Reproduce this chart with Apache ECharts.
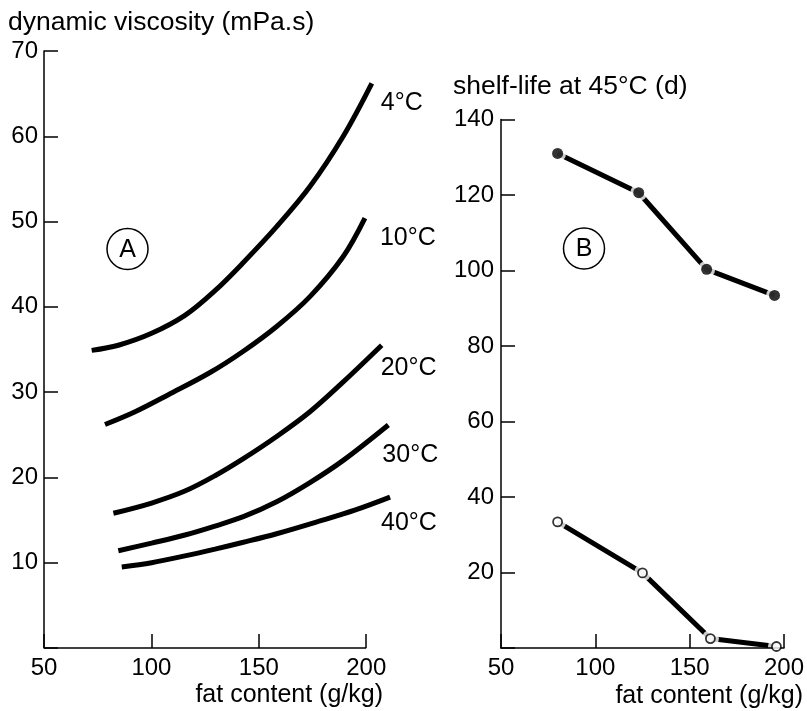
<!DOCTYPE html>
<html><head><meta charset="utf-8">
<script src="https://cdn.jsdelivr.net/npm/echarts/dist/echarts.min.js"></script>
<style>html,body{margin:0;padding:0;background:#fff}#c{width:807px;height:711px}</style>
</head><body><div id="c"></div>
<script>
// Panel A: dynamic viscosity (mPa.s) vs fat content (g/kg), one curve per temperature
const tempLabels = ['4°C', '10°C', '20°C', '30°C', '40°C'];
const fat4  = [72.2, 84.6, 100.1, 115.6, 129.6, 142.8, 158.3, 173.8, 189.3, 202.6];
const visc4 = [34.9, 35.5, 36.9, 39.0, 41.9, 45.2, 49.4, 54.1, 60.0, 66.2];
const fat10  = [78.4, 92.4, 107.9, 127.3, 142.8, 158.3, 173.8, 189.3, 199.4];
const visc10 = [26.2, 27.7, 29.7, 32.3, 34.8, 37.7, 41.2, 45.9, 50.4];
const fat20  = [82.3, 100.1, 115.6, 129.6, 142.8, 158.3, 173.8, 189.3, 207.2];
const visc20 = [15.8, 17.0, 18.4, 20.2, 22.2, 24.8, 27.7, 31.2, 35.5];
const fat30  = [84.6, 100.1, 115.6, 129.6, 142.8, 158.3, 173.8, 189.3, 210.3];
const visc30 = [11.4, 12.3, 13.25, 14.3, 15.4, 17.15, 19.4, 22.0, 26.15];
const fat40  = [86.2, 100.1, 115.6, 129.6, 142.8, 158.3, 178.5, 195.0, 211.1];
const visc40 = [9.5, 10.0, 10.8, 11.6, 12.4, 13.4, 14.9, 16.2, 17.7];
const yTicksA = [10, 20, 30, 40, 50, 60, 70];
const xTicks = [50, 100, 150, 200];
const xMaxA = 212; // curves run a little past the last tick

// Panel B: shelf-life at 45°C (d) vs fat content (g/kg)
const fatFilled  = [80, 123, 159, 195];
const lifeFilled = [131, 120.6, 100.3, 93.4];
const fatOpen  = [80, 125, 161, 196];
const lifeOpen = [33.4, 19.9, 2.5, 0.4];
const yTicksB = [20, 40, 60, 80, 100, 120, 140];

const FONT = 'Liberation Sans, Arial, Helvetica, sans-serif';
const pairs = (xs, ys) => xs.map((x, i) => [x, ys[i]]);

const curvesA = [[fat4, visc4], [fat10, visc10], [fat20, visc20], [fat30, visc30], [fat40, visc40]];
const labelOffsets = [[1, 20], [7, 19.5], [-9, 23], [-14, 30], [-17, 26]];

const lineStyleAxis = { color: '#000', width: 1.5 };
const axisCommon = {
  axisLine: { show: true, onZero: false, lineStyle: lineStyleAxis },
  axisTick: { show: true, inside: true, length: 14, lineStyle: lineStyleAxis },
  splitLine: { show: false },
  axisLabel: { color: '#000', fontSize: 24, fontFamily: FONT }
};

const series = [];
curvesA.forEach((c, i) => {
  const s = {
    type: 'line', name: tempLabels[i], xAxisIndex: 0, yAxisIndex: 0,
    data: pairs(c[0], c[1]), smooth: 0.35, showSymbol: false, symbol: 'none',
    clip: false, z: 2,
    lineStyle: { color: '#000', width: 5, cap: 'butt' },
    endLabel: { show: true, formatter: tempLabels[i], color: '#000', fontSize: 25, fontFamily: FONT,
                offset: labelOffsets[i] }
  };
  if (i === 0) {
    // x-axis line of panel A stops at the last tick
    s.markLine = {
      silent: true, symbol: 'none', animation: false, label: { show: false },
      lineStyle: { color: '#000', width: 1.5, type: 'solid' },
      data: [[{ coord: [xTicks[0], 0] }, { coord: [xTicks[xTicks.length - 1], 0] }]]
    };
  }
  series.push(s);
});

// Panel B lines
[[fatFilled, lifeFilled], [fatOpen, lifeOpen]].forEach((c, i) => {
  series.push({
    type: 'line', name: i === 0 ? 'filled' : 'open', xAxisIndex: 1, yAxisIndex: 1,
    data: pairs(c[0], c[1]), showSymbol: false, symbol: 'none', z: 2, clip: false,
    lineStyle: { color: '#000', width: 5 }
  });
  // white halos create the gaps around markers
  series.push({
    type: 'scatter', xAxisIndex: 1, yAxisIndex: 1, data: pairs(c[0], c[1]),
    symbol: 'circle', symbolSize: 17, z: 3, clip: false,
    itemStyle: { color: '#fff' }, silent: true
  });
  series.push({
    type: 'scatter', xAxisIndex: 1, yAxisIndex: 1, data: pairs(c[0], c[1]),
    symbol: 'circle', symbolSize: i === 0 ? 11 : 9, z: 5, clip: false,
    itemStyle: i === 0 ? { color: '#000' } : { color: '#fff', borderColor: '#000', borderWidth: 1.8 }
  });
});

const titleStyle = (size) => ({ fontSize: size, fontWeight: 'normal', color: '#000', fontFamily: FONT });

const option = {
  animation: false,
  backgroundColor: '#fff',
  textStyle: { fontFamily: FONT, color: '#000' },
  title: [
    { text: 'dynamic viscosity (mPa.s)', left: 8, top: 9, padding: 0, textStyle: titleStyle(26.5) },
    { text: 'shelf-life at 45°C (d)', left: 453, top: 73, padding: 0, textStyle: titleStyle(26.5) },
    { text: 'fat content (g/kg)', right: 424, top: 683, padding: 0, textStyle: titleStyle(25) },
    { text: 'fat content (g/kg)', right: 4, top: 684, padding: 0, textStyle: titleStyle(25) }
  ],
  grid: [
    { left: 44, top: 51, width: 348, height: 597 },
    { left: 501, top: 119.5, width: 286, height: 528.5 }
  ],
  xAxis: [
    Object.assign({}, axisCommon, { type: 'value', gridIndex: 0, min: xTicks[0], max: xMaxA, interval: 50,
      axisLine: { show: false },
      axisTick: Object.assign({}, axisCommon.axisTick, { customValues: xTicks }),
      axisLabel: Object.assign({}, axisCommon.axisLabel, { margin: 8, customValues: xTicks }) }),
    Object.assign({}, axisCommon, { type: 'value', gridIndex: 1, min: xTicks[0], max: xTicks[xTicks.length - 1], interval: 50, z: 4,
      axisLabel: Object.assign({}, axisCommon.axisLabel, { margin: 8 }) })
  ],
  yAxis: [
    Object.assign({}, axisCommon, { type: 'value', gridIndex: 0, min: 0, max: yTicksA[yTicksA.length - 1], interval: 10,
      axisLabel: Object.assign({}, axisCommon.axisLabel, { margin: 6, formatter: v => yTicksA.includes(v) ? String(v) : '' }) }),
    Object.assign({}, axisCommon, { type: 'value', gridIndex: 1, min: 0, max: yTicksB[yTicksB.length - 1], interval: 20,
      axisLabel: Object.assign({}, axisCommon.axisLabel, { margin: 7, formatter: v => yTicksB.includes(v) ? String(v) : '' }) })
  ],
  graphic: [
    { type: 'circle', shape: { cx: 127.5, cy: 249, r: 20.5 }, style: { fill: 'transparent', stroke: '#000', lineWidth: 1.5 } },
    { type: 'text', x: 127.5, y: 250, style: { text: 'A', fontSize: 25, fontFamily: FONT, fill: '#000', align: 'center', verticalAlign: 'middle' } },
    { type: 'circle', shape: { cx: 584, cy: 248.5, r: 20.5 }, style: { fill: 'transparent', stroke: '#000', lineWidth: 1.5 } },
    { type: 'text', x: 584, y: 249.5, style: { text: 'B', fontSize: 25, fontFamily: FONT, fill: '#000', align: 'center', verticalAlign: 'middle' } }
  ],
  series: series
};

const chart = echarts.init(document.getElementById('c'), null, { renderer: 'canvas' });
chart.setOption(option);
</script>
</body></html>
